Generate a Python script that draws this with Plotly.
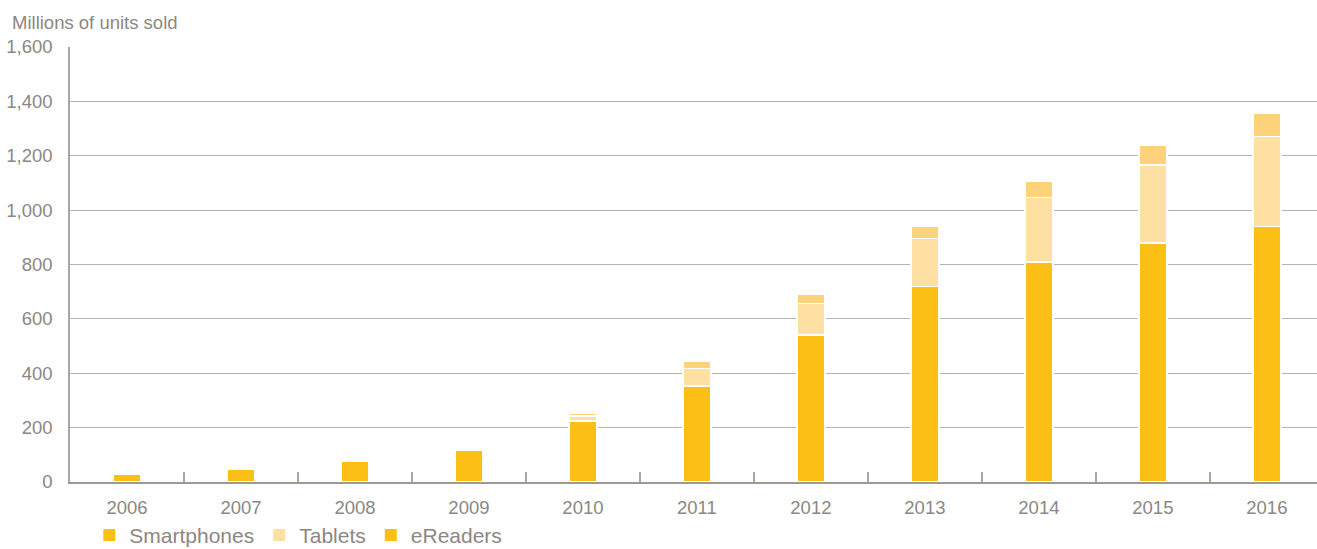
import plotly.graph_objects as go

years = ["2006", "2007", "2008", "2009", "2010", "2011", "2012", "2013", "2014", "2015", "2016"]
smartphones = [29, 48, 77, 118, 224, 354, 540, 720, 809, 880, 940]
tablets = [0, 0, 0, 0, 19, 64, 116, 175, 237, 286, 331]
ereaders = [0, 1, 3, 7, 10, 26, 33, 47, 60, 72, 87]
y_ticks = [0, 200, 400, 600, 800, 1000, 1200, 1400, 1600]

C_SMART = "#FBBF15"
C_TAB = "#FEE0A3"
C_ERD = "#FED27B"
C_LEG_ERD = "#FBBF15"
TXT = "#8C8782"
GRID = "#B8B3AE"
FONT = "Liberation Sans, Arial, sans-serif"

fig = go.Figure()
line = dict(color="white", width=1.5)
fig.add_trace(go.Bar(x=years, y=smartphones, name="Smartphones", marker=dict(color=C_SMART, line=line), width=0.245, showlegend=False))
fig.add_trace(go.Bar(x=years, y=tablets, name="Tablets", marker=dict(color=C_TAB, line=line), width=0.245, showlegend=False))
fig.add_trace(go.Bar(x=years, y=ereaders, name="eReaders", marker=dict(color=C_ERD, line=line), width=0.245, showlegend=False))

# legend entries
for nm, col in [("Smartphones", C_SMART), ("Tablets", C_TAB), ("eReaders", C_LEG_ERD)]:
    fig.add_trace(go.Bar(x=[None], y=[None], name=nm, marker=dict(color=col, line=dict(width=0)), showlegend=True))

fig.update_layout(
    width=1317, height=549,
    margin=dict(l=70, r=0, t=47, b=67, autoexpand=False),
    barmode="stack",
    plot_bgcolor="white", paper_bgcolor="white",
    font=dict(family=FONT, color=TXT, size=18),
    legend=dict(orientation="h", x=0.0155, xanchor="left", yref="container", y=0.062, yanchor="top",
                font=dict(size=21, color=TXT), itemwidth=30, traceorder="normal",
                bgcolor="rgba(0,0,0,0)"),
    xaxis=dict(type="category", range=[-0.5, 10.44], showline=True, linecolor="#9E9993", linewidth=1.5,
               ticks="inside", tickson="boundaries", ticklen=10, tickcolor="#ABA6A1", tickwidth=1.5,
               showgrid=False, tickfont=dict(size=18.5, color=TXT), ticklabelstandoff=8),
    yaxis=dict(range=[0, 1600], tickvals=y_ticks, tickformat=",", showgrid=True, gridcolor=GRID, gridwidth=1,
               showline=True, linecolor="#ABA6A1", linewidth=1.5, zeroline=False, ticks="",
               tickfont=dict(size=18.5, color=TXT), ticklabelstandoff=12),
    annotations=[dict(text="Millions of units sold", xref="paper", yref="paper", x=-60/1247, y=1,
                      xanchor="left", yanchor="bottom", yshift=12, showarrow=False,
                      font=dict(size=18.5, color=TXT))],
)

fig.write_html("out.html")
